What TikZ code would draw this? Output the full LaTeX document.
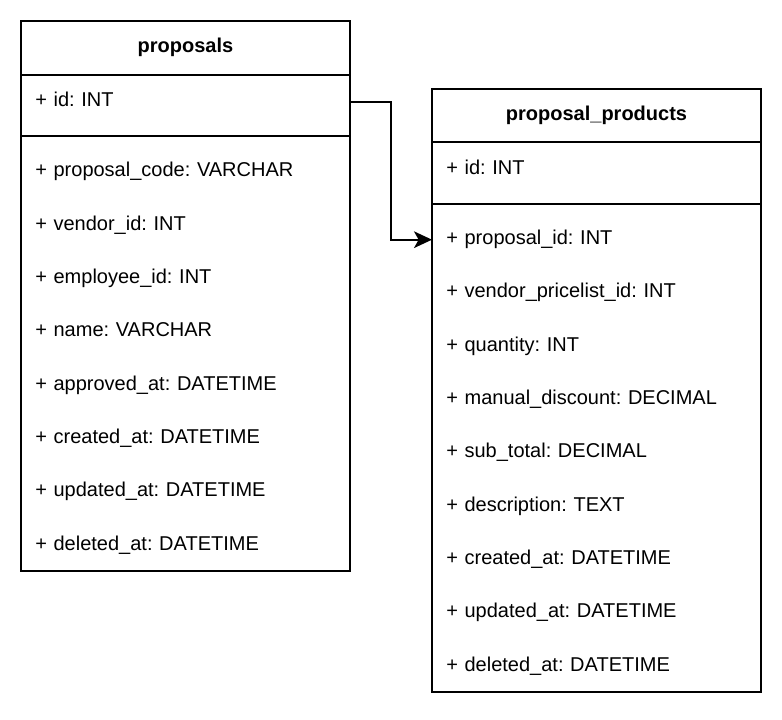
\documentclass[tikz,border=0pt]{standalone}
\usepackage{fontspec}
\setmainfont{Liberation Sans}
\usepackage{xcolor}
\usepackage{tikz}
\usetikzlibrary{calc,arrows.meta}
\frenchspacing
\definecolor{ink}{HTML}{000000}
\tikzset{
  base/.style={draw=ink, line width=1.5pt},
  link/.style={draw=ink, line width=1.5pt, -{Stealth[length=13.5pt, width=12.5pt, inset=3.5pt]}},
  head/.style={text=ink, inner sep=0pt, text height=11.5pt, text depth=4pt, font=\bfseries\fontsize{15}{18}\selectfont},
  row/.style={text=ink, anchor=west, inner xsep=10.5pt, inner ysep=0pt, text width=225.75pt, align=left,
    text height=11.5pt, text depth=4pt, font=\fontsize{15}{18}\selectfont},
}
\begin{document}
\begin{tikzpicture}[x=0.75pt, y=-0.75pt]
  \useasboundingbox (0,0) rectangle (782,720);
  % proposals
  \draw[base] (21,21.3) rectangle (350,570.7);
  \draw[base] (21,74.7) -- (350,74.7);
  \draw[base] (21,136) -- (350,136);
  \node[head] (A) at (185.5,48) {proposals};
  \node[row] (A0) at (21,101.7) {+ id: INT};
  \node[row] (A1) at (21,172) {+ proposal\_code: VARCHAR};
  \node[row] (A2) at (21,225.3) {+ vendor\_id: INT};
  \node[row] (A3) at (21,278.6) {+ employee\_id: INT};
  \node[row] (A4) at (21,331.9) {+ name: VARCHAR};
  \node[row] (A5) at (21,385.2) {+ approved\_at: DATETIME};
  \node[row] (A6) at (21,438.5) {+ created\_at: DATETIME};
  \node[row] (A7) at (21,491.8) {+ updated\_at: DATETIME};
  \node[row] (A8) at (21,545.1) {+ deleted\_at: DATETIME};
  % proposal_products
  \draw[base] (432,89.3) rectangle (761,692);
  \draw[base] (432,141.7) -- (761,141.7);
  \draw[base] (432,204) -- (761,204);
  \node[head] (B) at (596.5,115.5) {proposal\_products};
  \node[row] (B0) at (432,169.2) {+ id: INT};
  \node[row] (B1) at (432,239.7) {+ proposal\_id: INT};
  \node[row] (B2) at (432,293) {+ vendor\_pricelist\_id: INT};
  \node[row] (B3) at (432,346.3) {+ quantity: INT};
  \node[row] (B4) at (432,399.6) {+ manual\_discount: DECIMAL};
  \node[row] (B5) at (432,452.9) {+ sub\_total: DECIMAL};
  \node[row] (B6) at (432,506.2) {+ description: TEXT};
  \node[row] (B7) at (432,559.5) {+ created\_at: DATETIME};
  \node[row] (B8) at (432,612.8) {+ updated\_at: DATETIME};
  \node[row] (B9) at (432,666.1) {+ deleted\_at: DATETIME};
  % link
  \draw[link] (A0.east) -| ($(A0.east)!0.5!(B1.west)$) |- (B1.west);
\end{tikzpicture}
\end{document}
